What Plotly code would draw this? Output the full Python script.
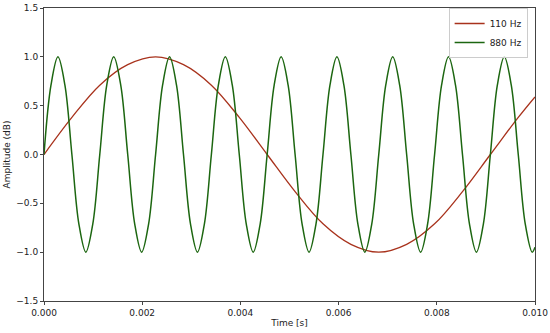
import plotly.graph_objects as go

# 110 Hz samples (read at sixteenth-period points)
t_110 = [0.0, 0.000568, 0.001136, 0.001705, 0.002273, 0.002841, 0.003409, 0.003977,
         0.004545, 0.005114, 0.005682, 0.006250, 0.006818, 0.007386, 0.007955, 0.008523,
         0.009091, 0.009659, 0.010]
a_110 = [0.0, 0.38, 0.71, 0.92, 1.0, 0.92, 0.71, 0.38,
         0.0, -0.38, -0.71, -0.92, -1.0, -0.92, -0.71, -0.38,
         0.0, 0.38, 0.59]

# 880 Hz samples (read at eighth-period points)
t_880 = [0.0, 0.000142, 0.000284, 0.000426, 0.000568, 0.000710, 0.000852, 0.000994,
         0.001136, 0.001278, 0.001420, 0.001563, 0.001705, 0.001847, 0.001989, 0.002131,
         0.002273, 0.002415, 0.002557, 0.002699, 0.002841, 0.002983, 0.003125, 0.003267,
         0.003409, 0.003551, 0.003693, 0.003835, 0.003977, 0.004119, 0.004261, 0.004403,
         0.004545, 0.004688, 0.004830, 0.004972, 0.005114, 0.005256, 0.005398, 0.005540,
         0.005682, 0.005824, 0.005966, 0.006108, 0.006250, 0.006392, 0.006534, 0.006676,
         0.006818, 0.006960, 0.007102, 0.007244, 0.007386, 0.007528, 0.007670, 0.007813,
         0.007955, 0.008097, 0.008239, 0.008381, 0.008523, 0.008665, 0.008807, 0.008949,
         0.009091, 0.009233, 0.009375, 0.009517, 0.009659, 0.009801, 0.009943, 0.010]
a_880 = [0.0, 0.71, 1.0, 0.71, 0.0, -0.71, -1.0, -0.71,
         0.0, 0.71, 1.0, 0.71, 0.0, -0.71, -1.0, -0.71,
         0.0, 0.71, 1.0, 0.71, 0.0, -0.71, -1.0, -0.71,
         0.0, 0.71, 1.0, 0.71, 0.0, -0.71, -1.0, -0.71,
         0.0, 0.71, 1.0, 0.71, 0.0, -0.71, -1.0, -0.71,
         0.0, 0.71, 1.0, 0.71, 0.0, -0.71, -1.0, -0.71,
         0.0, 0.71, 1.0, 0.71, 0.0, -0.71, -1.0, -0.71,
         0.0, 0.71, 1.0, 0.71, 0.0, -0.71, -1.0, -0.71,
         0.0, 0.71, 1.0, 0.71, 0.0, -0.71, -1.0, -0.95]

x_ticks = [0.0, 0.002, 0.004, 0.006, 0.008, 0.010]
x_ticklabels = ["0.000", "0.002", "0.004", "0.006", "0.008", "0.010"]
y_ticks = [-1.5, -1.0, -0.5, 0.0, 0.5, 1.0, 1.5]
y_ticklabels = ["\u22121.5", "\u22121.0", "\u22120.5", "0.0", "0.5", "1.0", "1.5"]

fig = go.Figure()
fig.add_trace(go.Scatter(x=t_110, y=a_110, mode="lines", name="110 Hz",
                         line=dict(color="#a8321c", width=1.3, shape="spline", smoothing=1.0)))
fig.add_trace(go.Scatter(x=t_880, y=a_880, mode="lines", name="880 Hz",
                         line=dict(color="#1c6610", width=1.5, shape="spline", smoothing=1.0)))

axis_common = dict(showline=True, linecolor="#444444", linewidth=1, mirror=True,
                   showgrid=False, zeroline=False, ticks="outside", ticklen=3,
                   tickcolor="#444444", tickfont=dict(size=9, color="#222222"),
                   automargin=False)

fig.update_layout(
    width=550, height=333,
    margin=dict(l=44, r=15, t=8, b=32),
    paper_bgcolor="white", plot_bgcolor="white",
    font=dict(family="DejaVu Sans", size=9, color="#222222"),
    xaxis=dict(range=[0, 0.01], tickvals=x_ticks, ticktext=x_ticklabels,
               title=dict(text="Time [s]", font=dict(size=9), standoff=2), **axis_common),
    yaxis=dict(range=[-1.5, 1.5], tickvals=y_ticks, ticktext=y_ticklabels,
               title=dict(text="Amplitude (dB)", font=dict(size=9), standoff=4), **axis_common),
    legend=dict(x=0.985, y=1.0, xanchor="right", yanchor="top",
                bgcolor="rgba(255,255,255,0.8)", bordercolor="#cccccc", borderwidth=1,
                font=dict(size=9), tracegroupgap=0, itemwidth=30),
    showlegend=True,
)

fig.write_html("out.html", config={"displayModeBar": False},
               post_script="document.body.style.margin='0';document.body.style.overflow='hidden';")
